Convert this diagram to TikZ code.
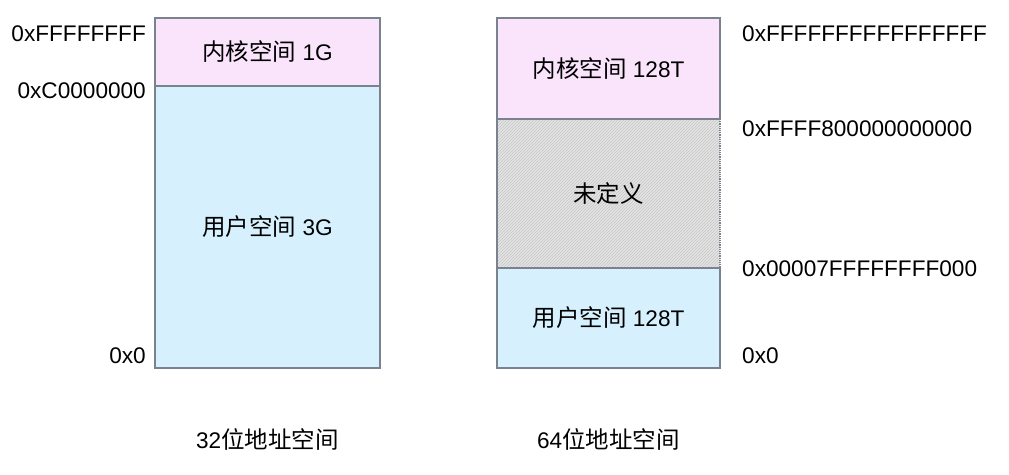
\documentclass[tikz,border=0pt]{standalone}
\usepackage{fontspec}
\setmainfont{Liberation Sans}
\newfontfamily\cjk[Scale=1.04]{Noto Sans CJK SC}
\usepackage{xcolor}
\usepackage{tikz}
\definecolor{kernelpink}{RGB}{250, 228, 252}
\definecolor{userblue}{RGB}{214, 241, 253}
\definecolor{undefgray}{RGB}{228, 228, 228}
\definecolor{edgegray}{RGB}{122, 130, 142}
\usetikzlibrary{positioning, patterns}

\tikzset{
    region/.style={draw=edgegray, line width=1.2pt, outer sep=0pt, inner sep=0pt, align=center},
    addr/.style={inner sep=0pt}
}

\begin{document}
\begin{tikzpicture}[x=1pt, y=-1pt, font=\fontsize{22.6}{27}\selectfont]
    \useasboundingbox (0,0) rectangle (1009,474);

    % 32-bit address space
    \node[region, fill=kernelpink, minimum width=225pt, minimum height=68pt, anchor=north west] (kern32) at (155,18) {{\cjk 内核空间} 1G};
    \node[region, fill=userblue, minimum width=225pt, minimum height=282pt, below=0pt of kern32] (user32) {{\cjk 用户空间} 3G};

    \node[addr, anchor=east] (top32) at (146,34) {0xFFFFFFFF};
    \node[addr, anchor=east] (split32) at (146,91) {0xC0000000};
    \node[addr, anchor=east] (zero32) at (146,356) {0x0};
    \node[below=57pt of user32] (title32) {32{\cjk 位地址空间}};

    % 64-bit address space
    \node[region, fill=kernelpink, minimum width=223pt, minimum height=101pt, anchor=north west] (kern64) at (497,18) {{\cjk 内核空间} 128T};
    \node[region, draw=none, fill=undefgray, postaction={pattern=north east lines, pattern color=gray!45},
          minimum width=223pt, minimum height=149pt, below=0pt of kern64] (undef64) {\cjk 未定义};
    \node[region, fill=userblue, minimum width=223pt, minimum height=100pt, below=0pt of undef64] (user64) {{\cjk 用户空间} 128T};
    \draw[edgegray, line width=1.2pt] (undef64.north east) -- (undef64.north west) -- (undef64.south west) -- (undef64.south east);
    \draw[edgegray, line width=1.2pt, densely dotted] (undef64.north east) -- (undef64.south east);

    \node[addr, anchor=west] (top64) at (742,34) {0xFFFFFFFFFFFFFFFF};
    \node[addr, anchor=west] (kstart64) at (742,129) {0xFFFF800000000000};
    \node[addr, anchor=west] (uend64) at (742,269) {0x00007FFFFFFFF000};
    \node[addr, anchor=west] (zero64) at (742,356) {0x0};
    \node[below=57pt of user64] (title64) {64{\cjk 位地址空间}};
\end{tikzpicture}
\end{document}
